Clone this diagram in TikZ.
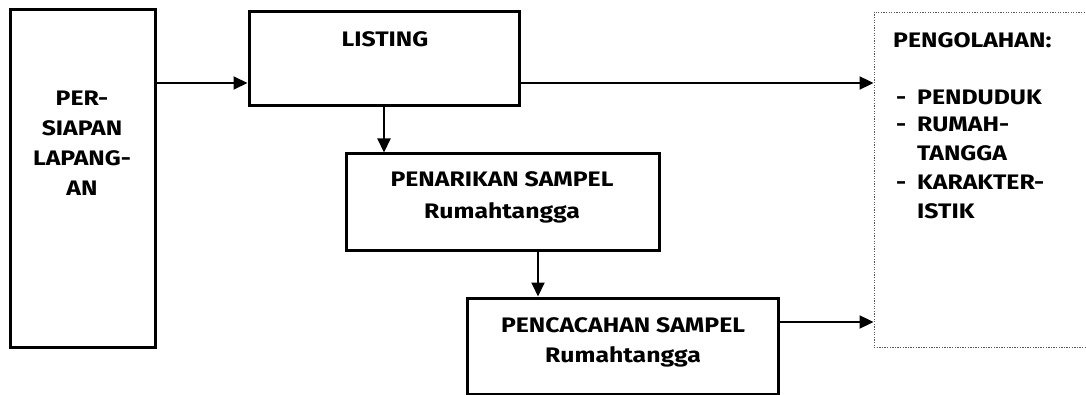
\documentclass[tikz,border=0pt]{standalone}
\usepackage{fontspec}
\setmainfont[FakeStretch=1.18]{Fira Sans}
\usetikzlibrary{arrows.meta}
\tikzset{
  box/.style={draw=black, line width=3pt, rectangle, inner sep=0pt},
  dotbox/.style={draw=black!65, line width=0.9pt, dash pattern=on 1.3pt off 1.3pt},
  arr/.style={line width=2pt, -{Triangle[length=14pt,width=13pt]}},
  lbl/.style={font=\fontsize{21}{30}\selectfont\bfseries, inner sep=0pt, align=center},
  lbll/.style={font=\fontsize{21}{28}\selectfont\bfseries, inner sep=0pt, anchor=base west, align=left},
}
\begin{document}
\begin{tikzpicture}[x=1pt,y=-1pt]
\useasboundingbox (0,0) rectangle (1086,395);
% boxes
\node[box, minimum width=145pt, minimum height=337pt] (persiapan) at (82.5,178.5) {};
\node[box, minimum width=270pt, minimum height=94pt] (listing) at (384,59) {};
\node[box, minimum width=313pt, minimum height=97pt] (penarikan) at (502.5,202.5) {};
\node[box, minimum width=311pt, minimum height=96pt] (pencacahan) at (622.5,346) {};
\node[dotbox, minimum width=220pt, minimum height=335pt, inner sep=0pt] (olah) at (984,179.5) {};
% texts
\node[lbl] (tpersiapan) at (82,143) {PER-\\SIAPAN\\LAPANG-\\AN};
\node[lbl] (tlisting) at (385,39) {LISTING};
\node[lbl, font=\fontsize{21}{32}\selectfont\bfseries] (tpenarikan) at (502,197) {PENARIKAN SAMPEL\\Rumahtangga};
\node[lbl] (tpencacahan) at (623,342) {PENCACAHAN SAMPEL\\Rumahtangga};
\node[lbll] (tolah) at (893,47.5) {PENGOLAHAN:};
\node[lbll] (d1) at (896,104.5) {-};
\node[lbll] (d2) at (896,132) {-};
\node[lbll] (d3) at (896,190) {-};
\node[lbll] (i1) at (917,104.5) {PENDUDUK};
\node[lbll] (i2) at (917,132) {RUMAH-};
\node[lbll] (i3) at (917,161) {TANGGA};
\node[lbll] (i4) at (917,190) {KARAKTER-};
\node[lbll] (i5) at (917,219) {ISTIK};
% connectors
\coordinate (ya) at (0,83);
\coordinate (xb) at (538,0);
\coordinate (yc) at (0,322);
\draw[arr] (persiapan.east |- ya) -- (listing.west |- ya);
\draw[arr] (listing.east |- ya) -- (olah.west |- ya);
\draw[arr] (listing.south) -- (listing.south |- penarikan.north);
\draw[arr] (penarikan.south -| xb) -- (pencacahan.north -| xb);
\draw[arr] (pencacahan.east |- yc) -- (olah.west |- yc);
\end{tikzpicture}
\end{document}
